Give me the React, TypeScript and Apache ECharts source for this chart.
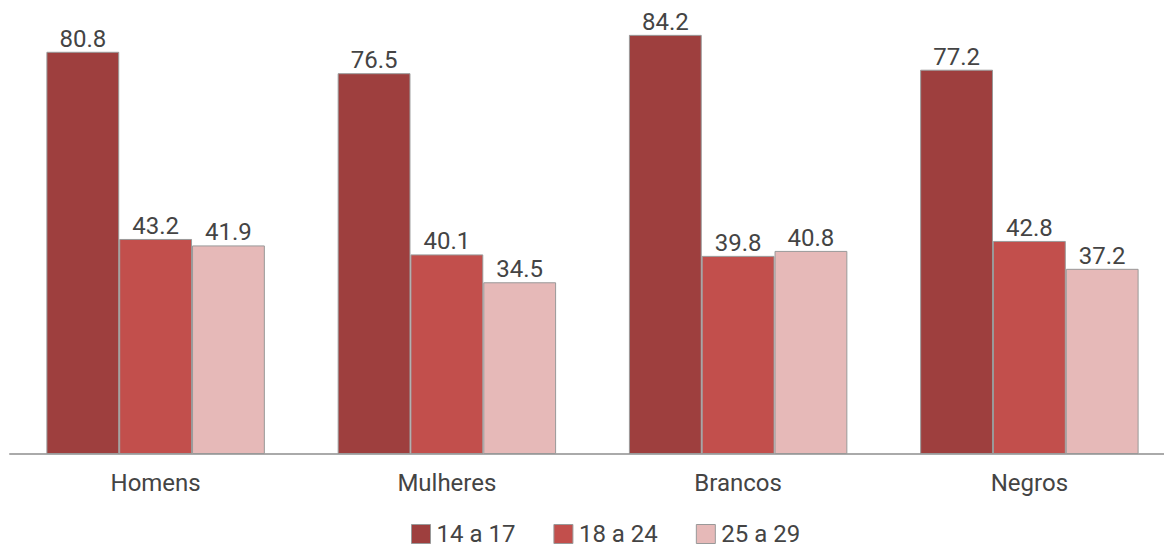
import React, { useEffect, useRef } from "react";
import * as echarts from "echarts";

const categories = ["Homens", "Mulheres", "Brancos", "Negros"];
const seriesNames = ["14 a 17", "18 a 24", "25 a 29"];
const s1417 = [80.8, 76.5, 84.2, 77.2];
const s1824 = [43.2, 40.1, 39.8, 42.8];
const s2529 = [41.9, 34.5, 40.8, 37.2];
const colors = ["#9e3f3e", "#c24f4c", "#e6b9b8"];

export default function App() {
  const ref = useRef<HTMLDivElement>(null);
  useEffect(() => {
    const chart = echarts.init(ref.current!, null, { renderer: "svg" });
    const data = [s1417, s1824, s2529];
    chart.setOption({
      animation: false,
      textStyle: { fontFamily: "Roboto" },
      grid: { left: 10, top: 6, width: 1165, height: 448, containLabel: false },
      legend: {
        top: 517,
        left: 406,
        itemWidth: 19,
        itemHeight: 19,
        itemGap: 38,
        icon: "rect",
        textStyle: { fontSize: 24, lineHeight: 18, color: "#444", fontFamily: "Roboto", padding: [0, 0, 0, 1] },
        itemStyle: { borderColor: "#999", borderWidth: 1 },
        data: seriesNames,
      },
      xAxis: {
        type: "category",
        data: categories,
        axisLine: { lineStyle: { color: "#aaa", width: 2 } },
        axisTick: { show: false },
        axisLabel: { fontSize: 24, color: "#444", margin: 17 },
      },
      yAxis: { type: "value", min: 0, max: 90, show: false, splitLine: { show: false } },
      series: seriesNames.map((name, i) => ({
        name,
        type: "bar",
        data: data[i],
        barGap: "0%",
        barCategoryGap: "25%",
        itemStyle: { color: colors[i], borderColor: "#999", borderWidth: 1 },
        label: {
          show: true,
          position: "top",
          distance: 1,
          fontSize: 24,
          color: "#444",
          formatter: (p: any) => p.value.toFixed(1),
        },
      })),
    });
    return () => chart.dispose();
  }, []);
  return (
    <div style={{ width: 1164, height: 548, position: "absolute", left: 0, top: 0, overflow: "hidden" }}>
      <div ref={ref} style={{ width: 1180, height: 548 }} />
    </div>
  );
}
